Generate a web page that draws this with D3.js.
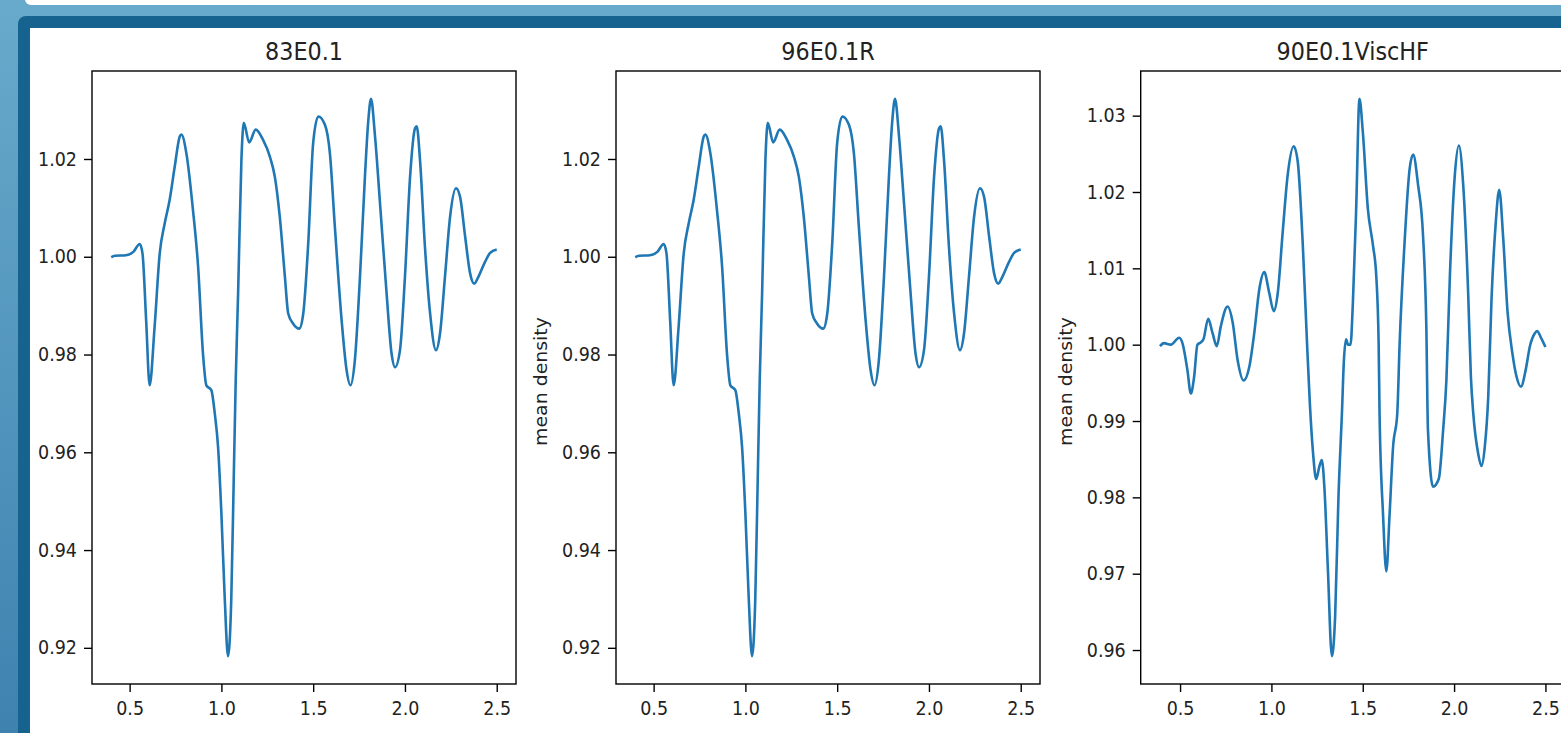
<!DOCTYPE html>
<html>
<head>
<meta charset="utf-8">
<script src="https://cdn.jsdelivr.net/npm/d3@7"></script>
<style>
  html, body { margin: 0; padding: 0; background: #fff; overflow: hidden; }
  svg { display: block; font-family: "DejaVu Sans", sans-serif; }
  .tick text { transform-box: fill-box; transform-origin: center; transform: scaleY(1.08); }
</style>
</head>
<body>
<svg id="chart" width="1561" height="733"></svg>
<script>
// --- data ---
const titles = ["83E0.1", "96E0.1R", "90E0.1ViscHF"];
const yLabels = ["", "mean density", "mean density"];
const xTicks = [0.5, 1.0, 1.5, 2.0, 2.5];
const yTicksA = [0.92, 0.94, 0.96, 0.98, 1.00, 1.02];
const yTicksB = [0.96, 0.97, 0.98, 0.99, 1.00, 1.01, 1.02, 1.03];

const rA = [0.40, 0.42, 0.48, 0.52, 0.555, 0.57, 0.59, 0.609, 0.636, 0.664, 0.691, 0.718, 0.746, 0.773, 0.782,
  0.809, 0.845, 0.873, 0.900, 0.918, 0.945, 0.964, 0.982, 1.000, 1.018, 1.036, 1.054, 1.067, 1.078, 1.091,
  1.109, 1.122, 1.151, 1.187, 1.227, 1.264, 1.291, 1.318, 1.346, 1.364, 1.391, 1.424, 1.446, 1.473, 1.500,
  1.528, 1.564, 1.591, 1.618, 1.655, 1.682, 1.703, 1.727, 1.755, 1.782, 1.800, 1.815, 1.837, 1.864, 1.900,
  1.927, 1.946, 1.973, 2.000, 2.028, 2.055, 2.064, 2.082, 2.109, 2.137, 2.169, 2.191, 2.218, 2.246, 2.278,
  2.300, 2.328, 2.355, 2.377, 2.400, 2.437, 2.464, 2.500];
const densA = [0.9999, 1.0002, 1.0003, 1.0010, 1.0026, 1.0007, 0.9870, 0.9737, 0.9856, 1.0007, 1.0068, 1.0116, 1.0185, 1.0246, 1.0250,
  1.0212, 1.0096, 0.9980, 0.9800, 0.9737, 0.9727, 0.9679, 0.9610, 0.9474, 0.9303, 0.9183, 0.9303, 0.9542, 0.9747, 0.9925,
  1.0198, 1.0274, 1.0234, 1.0260, 1.0239, 1.0205, 1.0164, 1.0082, 0.9959, 0.9884, 0.9863, 0.9853, 0.9884, 1.0027, 1.0233,
  1.0287, 1.0270, 1.0212, 1.0062, 0.9870, 0.9768, 0.9737, 0.9788, 0.9959, 1.0164, 1.0277, 1.0323, 1.0246, 1.0110, 0.9925,
  0.9802, 0.9774, 0.9809, 0.9959, 1.0164, 1.0263, 1.0267, 1.0198, 1.0020, 0.9884, 0.9809, 0.9843, 0.9959, 1.0082, 1.0140,
  1.0123, 1.0041, 0.9966, 0.9945, 0.9959, 0.9990, 1.0008, 1.0015];

const rB = [0.39, 0.412, 0.449, 0.495, 0.513, 0.540, 0.559, 0.577, 0.595, 0.614, 0.628, 0.654, 0.678, 0.701, 0.723,
  0.760, 0.788, 0.815, 0.848, 0.879, 0.906, 0.934, 0.961, 0.988, 1.013, 1.035, 1.062, 1.089, 1.122, 1.144,
  1.172, 1.195, 1.210, 1.228, 1.245, 1.263, 1.276, 1.290, 1.309, 1.331, 1.349, 1.367, 1.386, 1.397, 1.409,
  1.419, 1.433, 1.446, 1.464, 1.482, 1.500, 1.528, 1.556, 1.574, 1.587, 1.592, 1.611, 1.629, 1.647, 1.666,
  1.689, 1.702, 1.729, 1.757, 1.776, 1.803, 1.830, 1.848, 1.857, 1.885, 1.916, 1.940, 1.958, 1.977, 2.004,
  2.026, 2.050, 2.077, 2.092, 2.105, 2.132, 2.150, 2.168, 2.187, 2.205, 2.227, 2.247, 2.269, 2.293, 2.319,
  2.342, 2.366, 2.392, 2.415, 2.442, 2.454, 2.476, 2.500];
const densB = [0.9998, 1.0002, 1.0000, 1.0009, 1.0002, 0.9967, 0.9936, 0.9958, 1.0000, 1.0003, 1.0007, 1.0034, 1.0015, 0.9998, 1.0024,
  1.0050, 1.0029, 0.9980, 0.9953, 0.9971, 1.0015, 1.0073, 1.0095, 1.0068, 1.0044, 1.0068, 1.0148, 1.0222, 1.0260, 1.0240,
  1.0130, 1.0002, 0.9925, 0.9858, 0.9824, 0.9841, 0.9849, 0.9813, 0.9707, 0.9592, 0.9645, 0.9800, 0.9910, 0.9980, 1.0007,
  1.0000, 1.0000, 1.0055, 1.0178, 1.0322, 1.0280, 1.0178, 1.0130, 1.0090, 1.0002, 0.9910, 0.9778, 0.9703, 0.9778, 0.9866,
  0.9910, 1.0002, 1.0134, 1.0231, 1.0249, 1.0209, 1.0143, 1.0024, 0.9888, 0.9814, 0.9824, 0.9888, 0.9954, 1.0090, 1.0222,
  1.0261, 1.0209, 1.0068, 0.9958, 0.9910, 0.9857, 0.9841, 0.9866, 0.9932, 1.0060, 1.0156, 1.0203, 1.0139, 1.0042, 0.9989,
  0.9958, 0.9945, 0.9967, 0.9998, 1.0015, 1.0018, 1.0009, 0.9997];

(function(){
const panelData = [
  { r: rA, d: densA, yTicks: yTicksA },
  { r: rA, d: densA, yTicks: yTicksA },
  { r: rB, d: densB, yTicks: yTicksB }
];

// --- frame ---
const svg = d3.select("#chart");
const defs = svg.append("defs");
const grad = defs.append("linearGradient").attr("id", "bg").attr("x1", 0).attr("y1", 0).attr("x2", 0).attr("y2", 1);
grad.append("stop").attr("offset", "0%").attr("stop-color", "#68aacb");
grad.append("stop").attr("offset", "100%").attr("stop-color", "#3f82b0");

svg.append("rect").attr("width", 1561).attr("height", 733).attr("fill", "url(#bg)");
svg.append("rect").attr("x", 25).attr("y", -20).attr("width", 1600).attr("height", 25).attr("rx", 6).attr("fill", "#fff");
svg.append("rect").attr("x", 18).attr("y", 16).attr("width", 1600).attr("height", 800).attr("rx", 8).attr("fill", "#16638f");
svg.append("rect").attr("x", 30).attr("y", 28).attr("width", 1600).attr("height", 800).attr("fill", "#fff");

// --- panels ---
const lefts = [92, 616, 1140.7];
const panelTop = 71, pw = 424, ph = 613;

function padded(ext) {
  const p = (ext[1] - ext[0]) * 0.05;
  return [ext[0] - p, ext[1] + p];
}

panelData.forEach((pd, i) => {
  const g = svg.append("g").attr("transform", `translate(${lefts[i]},${panelTop})`);
  const x = d3.scaleLinear().domain(padded(d3.extent(pd.r))).range([0, pw]);
  const y = d3.scaleLinear().domain(padded(d3.extent(pd.d))).range([ph, 0]);
  const pts = pd.r.map((r, k) => [r, pd.d[k]]);

  g.append("path")
    .datum(pts)
    .attr("fill", "none")
    .attr("stroke", "#1f77b4")
    .attr("stroke-width", 2.6)
    .attr("stroke-linejoin", "round")
    .attr("d", d3.line().x(d => x(d[0])).y(d => y(d[1])).curve(d3.curveMonotoneX));

  // spines
  g.append("rect").attr("width", pw).attr("height", ph)
    .attr("fill", "none").attr("stroke", "#000").attr("stroke-width", 1.4);

  const xa = g.append("g").attr("transform", `translate(0,${ph})`)
    .call(d3.axisBottom(x).tickValues(xTicks).tickFormat(d3.format(".1f")).tickSize(8).tickPadding(10.5));
  const ya = g.append("g")
    .call(d3.axisLeft(y).tickValues(pd.yTicks).tickFormat(d3.format(".2f")).tickSize(8).tickPadding(7));
  [xa, ya].forEach(a => {
    a.select(".domain").remove();
    a.selectAll("line").attr("stroke", "#000").attr("stroke-width", 1.4);
    a.selectAll("text").attr("fill", "#222").style("font-size", "17.5px").style("font-family", "DejaVu Sans");
  });

  g.append("text")
    .attr("transform", `translate(${pw / 2},-11.5) scale(1,1.08)`)
    .attr("text-anchor", "middle")
    .attr("fill", "#222")
    .style("font-size", "22.3px")
    .text(titles[i]);

  g.append("text")
    .attr("x", pw / 2).attr("y", ph + 72)
    .attr("text-anchor", "middle")
    .attr("fill", "#222")
    .style("font-size", "17.5px")
    .text("r");

  if (yLabels[i]) {
    g.append("text")
      .attr("transform", `translate(${-69},${ph / 2 + 4}) rotate(-90) scale(1.08,1)`)
      .attr("text-anchor", "middle")
      .attr("fill", "#222")
      .style("font-size", "17.5px")
      .text(yLabels[i]);
  }
});
})();
</script>
</body>
</html>
